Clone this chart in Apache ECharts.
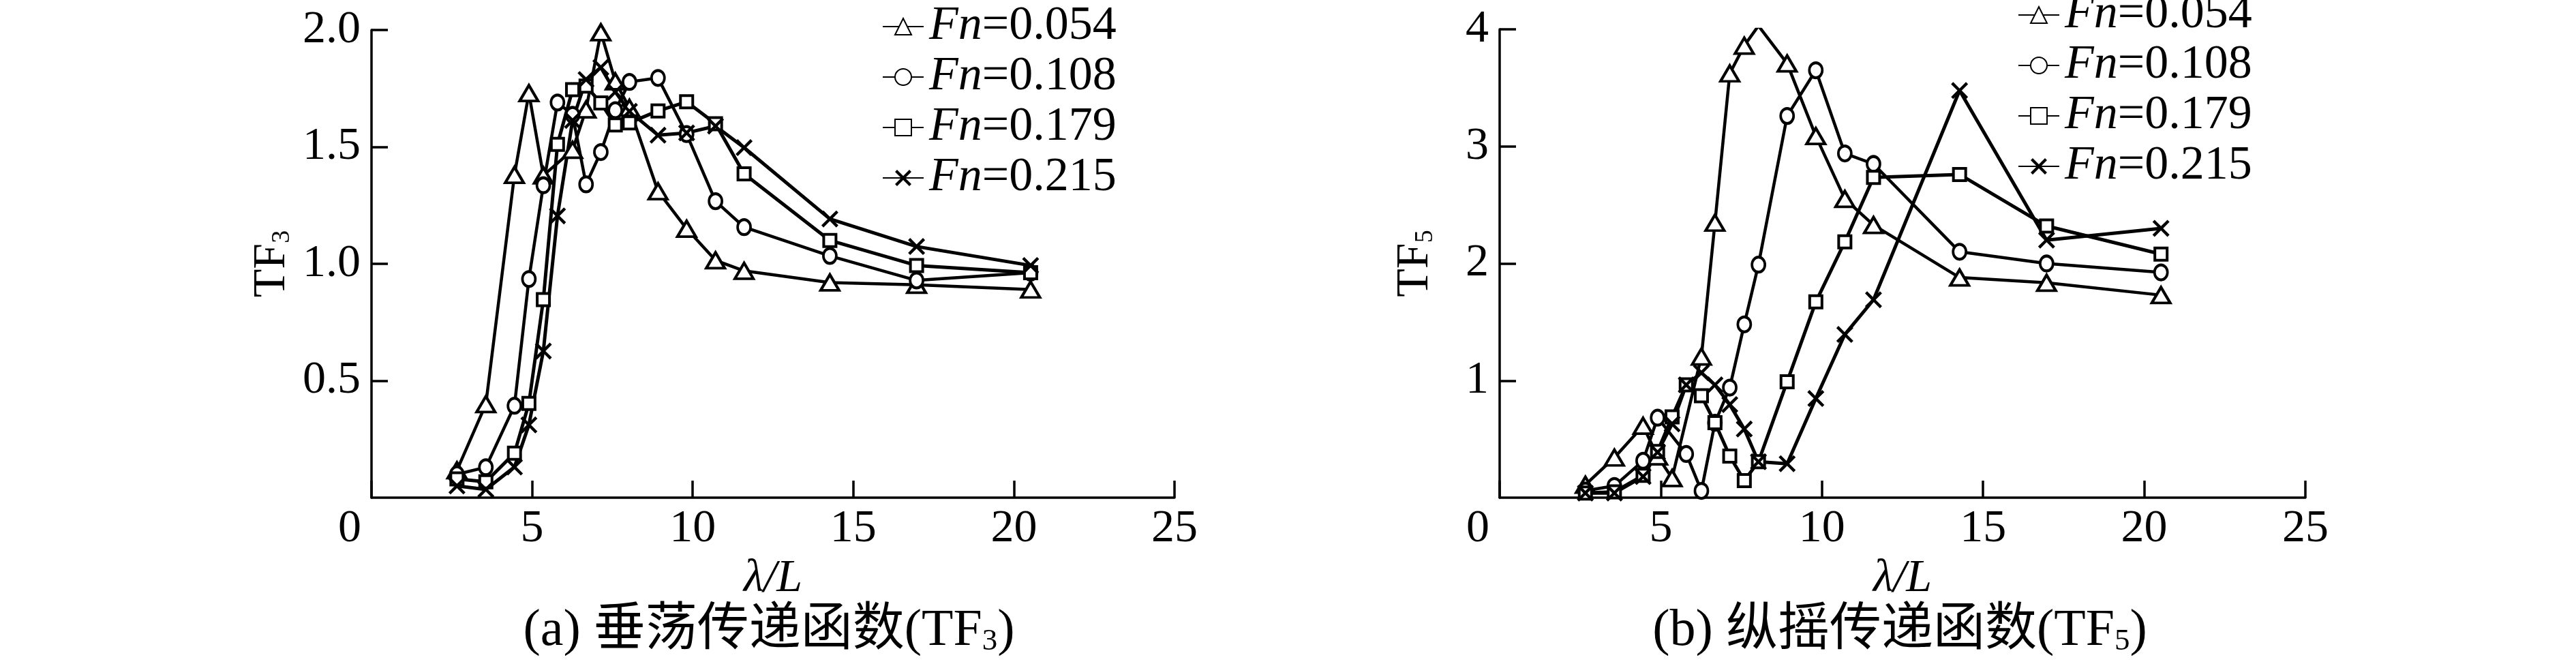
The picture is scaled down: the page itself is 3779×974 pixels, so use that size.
<!DOCTYPE html>
<html>
<head>
<meta charset="utf-8">
<script src="https://cdn.jsdelivr.net/npm/echarts@6/dist/echarts.min.js"></script>
<style>
  html, body { margin: 0; padding: 0; background: #fff; }
  #chart { width: 3779px; height: 974px; }
</style>
</head>
<body>
<div id="chart"></div>
<script>
// λ/L sample points shared by every curve (null = no measurement at that λ/L)
const lambdaL = [2.66, 3.56, 4.45, 4.9, 5.35, 5.79, 6.26, 6.68, 7.14, 7.59, 8.03, 8.92, 9.81, 10.71, 11.6, 14.27, 16.97, 20.52];

const fnNames = ['Fn=0.054', 'Fn=0.108', 'Fn=0.179', 'Fn=0.215'];

// (a) heave TF3
const tf3Fn054 = [0.117, 0.40, 1.38, 1.73, 1.378, null, 1.487, 1.66, 1.99, 1.78, 1.667, 1.31, 1.15, 1.015, 0.97, 0.92, 0.91, 0.89];
const tf3Fn108 = [0.10, 0.13, 0.393, 0.935, 1.336, 1.69, 1.637, 1.34, 1.478, 1.657, 1.778, 1.795, 1.555, 1.268, 1.157, 1.034, 0.929, 0.962];
const tf3Fn179 = [0.08, 0.068, 0.19, 0.403, 0.847, 1.511, 1.745, 1.76, 1.688, 1.594, 1.603, 1.654, 1.693, 1.599, 1.385, 1.10, 0.993, 0.962];
const tf3Fn215 = [0.05, 0.035, 0.131, 0.311, 0.627, 1.205, 1.613, 1.788, 1.84, 1.735, 1.652, 1.55, 1.56, 1.589, 1.497, 1.192, 1.074, 0.993];

// (b) pitch TF5
const tf5Fn054 = [0.11, 0.342, 0.613, 0.352, 0.167, null, 1.205, 2.348, 3.623, 3.86, 4.03, 3.708, 3.088, 2.551, 2.328, 1.88, 1.835, 1.73];
const tf5Fn108 = [0.06, 0.10, 0.315, 0.683, null, 0.373, 0.058, 0.64, 0.94, 1.48, 1.99, 3.26, 3.65, 2.94, 2.85, 2.10, 2.0, 1.924];
const tf5Fn179 = [0.04, 0.05, 0.19, 0.395, 0.69, 0.963, 0.87, 0.64, 0.355, 0.146, 0.307, 0.99, 1.672, 2.185, 2.735, 2.76, 2.32, 2.08];
const tf5Fn215 = [0.04, 0.04, 0.18, 0.388, 0.63, 0.963, 1.067, 0.963, 0.795, 0.586, 0.307, 0.29, 0.847, 1.394, 1.69, 3.477, 2.20, 2.30];

const FONT = "'Liberation Serif', 'Noto Sans CJK SC', serif";
const FS = 68;

const crossPath = 'path://M2.5,0L10,7.5L17.5,0L20,2.5L12.5,10L20,17.5L17.5,20L10,12.5L2.5,20L0,17.5L7.5,10L0,2.5Z';

// marker look for each Fn
const markers = [
  { symbol: 'triangle', size: [27, 23], width: 4.5, fill: '#fff' },
  { symbol: 'circle', size: [19, 22], width: 4.5, fill: '#fff' },
  { symbol: 'rect', size: [18, 18], width: 5, fill: '#fff' },
  { symbol: crossPath, size: [25, 25], width: 5, fill: '#000' }
];

function pairs(vals) {
  const out = [];
  vals.forEach((v, i) => { if (v !== null) out.push([lambdaL[i], v]); });
  return out;
}

function makeSeries(vals, k, axisIdx) {
  const m = markers[k];
  return {
    name: fnNames[k],
    type: 'line',
    xAxisIndex: axisIdx,
    yAxisIndex: axisIdx,
    data: pairs(vals),
    symbol: m.symbol,
    symbolSize: m.size,
    showSymbol: true,
    lineStyle: { color: '#000', width: m.width },
    itemStyle: {
      color: m.fill,
      borderColor: '#000',
      borderWidth: m.fill === '#000' ? 0 : 4
    },
    emphasis: { disabled: true }
  };
}

function xAxis(gridIndex) {
  return {
    type: 'value',
    gridIndex: gridIndex,
    min: 0,
    max: 25,
    interval: 5,
    name: 'λ/L',
    nameLocation: 'middle',
    nameGap: 82,
    nameTextStyle: { fontFamily: FONT, fontSize: FS, fontStyle: 'italic', color: '#000' },
    axisLine: { onZero: false, lineStyle: { color: '#000', width: 3.5 } },
    axisTick: { inside: true, length: 25, lineStyle: { color: '#000', width: 3.5 } },
    axisLabel: {
      margin: 12,
      color: '#000',
      fontFamily: FONT,
      fontSize: FS,
      formatter: v => (v === 0 ? '{z|0}' : String(v)),
      rich: { z: { fontFamily: FONT, fontSize: FS, color: '#000', padding: [0, 64, 0, 0] } }
    },
    splitLine: { show: false }
  };
}

function yAxis(gridIndex, max, interval, sub, gap, fmt) {
  return {
    type: 'value',
    gridIndex: gridIndex,
    min: 0,
    max: max,
    interval: interval,
    name: '{a|TF}{s|' + sub + '}',
    nameLocation: 'middle',
    nameRotate: 90,
    nameGap: gap,
    nameTextStyle: {
      color: '#000',
      rich: {
        a: { fontFamily: FONT, fontSize: FS, color: '#000', lineHeight: 68 },
        s: { fontFamily: FONT, fontSize: 38, color: '#000', verticalAlign: 'bottom', lineHeight: 40 }
      }
    },
    axisLine: { onZero: false, lineStyle: { color: '#000', width: 3.5 } },
    axisTick: { inside: true, length: 24, lineStyle: { color: '#000', width: 3.5 } },
    axisLabel: {
      margin: 16,
      color: '#000',
      fontFamily: FONT,
      fontSize: FS,
      showMinLabel: false,
      formatter: fmt
    },
    splitLine: { show: false }
  };
}

function legend(left, top) {
  return {
    data: fnNames,
    orient: 'vertical',
    left: left,
    top: top,
    padding: 0,
    itemWidth: 60,
    itemHeight: 30,
    itemGap: 4,
    selectedMode: false,
    formatter: name => '{i|Fn}{r|' + name.slice(2) + '}',
    textStyle: {
      color: '#000',
      rich: {
        i: { fontFamily: FONT, fontSize: 70, fontStyle: 'italic', color: '#000', lineHeight: 62, padding: [0, 0, 0, 3] },
        r: { fontFamily: FONT, fontSize: 70, color: '#000', lineHeight: 62 }
      }
    }
  };
}

function caption(x, text, sub) {
  return {
    type: 'text',
    x: x,
    y: 926,
    style: {
      text: text + '(TF{s|' + sub + '})',
      align: 'center',
      verticalAlign: 'middle',
      fontFamily: FONT,
      fontSize: 76,
      fill: '#000',
      rich: {
        s: { fontFamily: FONT, fontSize: 45, fill: '#000', verticalAlign: 'bottom', lineHeight: 40 }
      }
    }
  };
}

const chart = echarts.init(document.getElementById('chart'), null, { renderer: 'canvas' });

chart.setOption({
  backgroundColor: '#fff',
  animation: false,
  textStyle: { fontFamily: FONT },
  grid: [
    { left: 545, top: 44, width: 1178, height: 686 },
    { left: 2200, top: 43, width: 1182, height: 687 }
  ],
  xAxis: [xAxis(0), xAxis(1)],
  yAxis: [
    yAxis(0, 2.0, 0.5, '3', 112, v => v.toFixed(1)),
    yAxis(1, 4, 1, '5', 90, v => String(v))
  ],
  legend: [legend(1294, 4), legend(2960, -13)],
  graphic: [
    caption(1128, '(a) 垂荡传递函数', '3'),
    caption(2787, '(b) 纵摇传递函数', '5')
  ],
  series: [
    makeSeries(tf3Fn054, 0, 0),
    makeSeries(tf3Fn108, 1, 0),
    makeSeries(tf3Fn179, 2, 0),
    makeSeries(tf3Fn215, 3, 0),
    makeSeries(tf5Fn054, 0, 1),
    makeSeries(tf5Fn108, 1, 1),
    makeSeries(tf5Fn179, 2, 1),
    makeSeries(tf5Fn215, 3, 1)
  ]
});
</script>
</body>
</html>
